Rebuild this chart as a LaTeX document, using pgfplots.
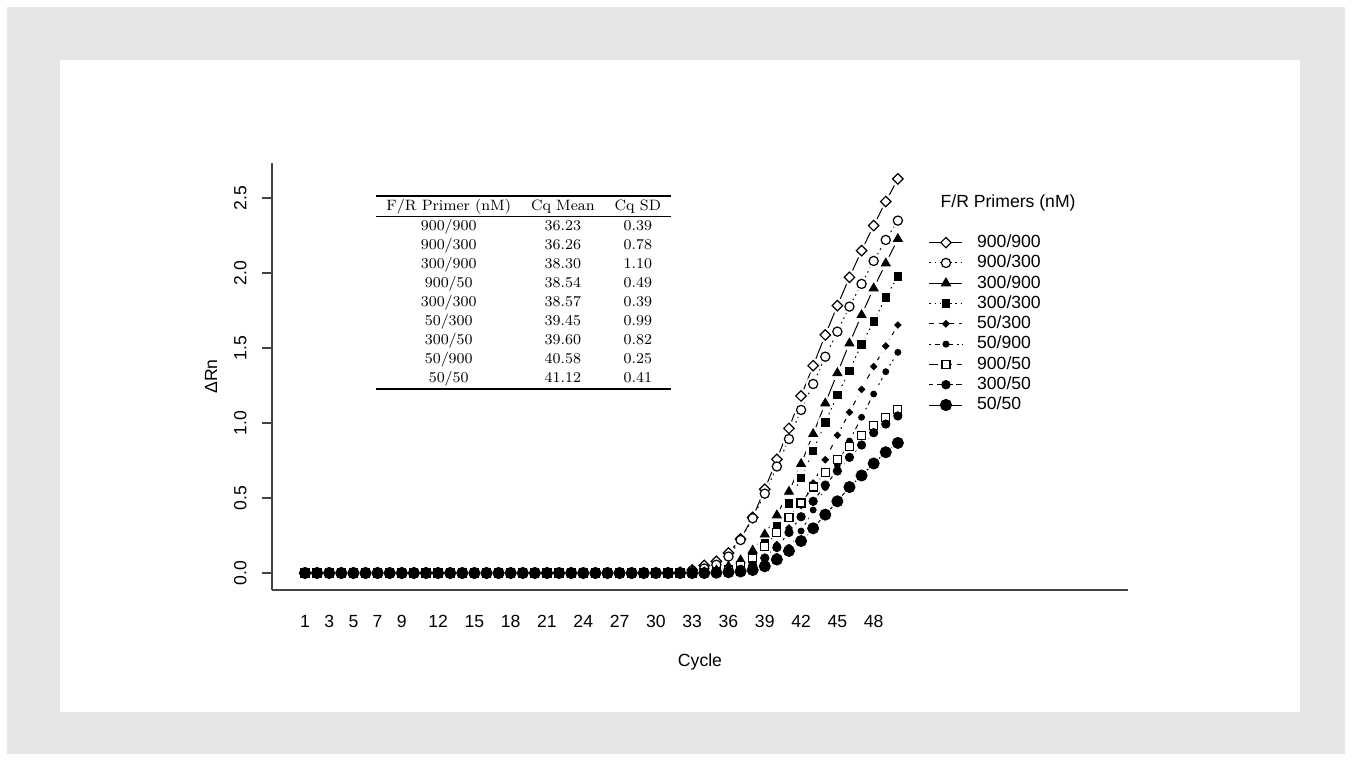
\documentclass[border=0pt]{standalone}
\usepackage{pgfplots}
\pgfplotsset{compat=1.18}
\usepackage{pgfplotstable}
\usepackage{booktabs}
\usepackage{fontspec}
\newfontfamily\arialfont{Liberation Sans}
\newcommand{\axfont}{\arialfont\fontsize{8.8}{10.5}\selectfont}
\definecolor{bg}{HTML}{E6E6E6}
\definecolor{axc}{HTML}{444444}

\pgfplotstableread{
c s1 s2 s3 s4 s5 s6 s7 s8 s9
1 0 0 0 0 0 0 0 0 0
2 0 0 0 0 0 0 0 0 0
3 0 0 0 0 0 0 0 0 0
4 0 0 0 0 0 0 0 0 0
5 0 0 0 0 0 0 0 0 0
6 0 0 0 0 0 0 0 0 0
7 0 0 0 0 0 0 0 0 0
8 0 0 0 0 0 0 0 0 0
9 0 0 0 0 0 0 0 0 0
10 0 0 0 0 0 0 0 0 0
11 0 0 0 0 0 0 0 0 0
12 0 0 0 0 0 0 0 0 0
13 0 0 0 0 0 0 0 0 0
14 0 0 0 0 0 0 0 0 0
15 0 0 0 0 0 0 0 0 0
16 0 0 0 0 0 0 0 0 0
17 0 0 0 0 0 0 0 0 0
18 0 0 0 0 0 0 0 0 0
19 0 0 0 0 0 0 0 0 0
20 0 0 0 0 0 0 0 0 0
21 0 0 0 0 0 0 0 0 0
22 0 0 0 0 0 0 0 0 0
23 0 0 0 0 0 0 0 0 0
24 0 0 0 0 0 0 0 0 0
25 0 0 0 0 0 0 0 0 0
26 0 0 0 0 0 0 0 0 0
27 0 0 0 0 0 0 0 0 0
28 0 0 0 0 0 0 0 0 0
29 0 0 0 0 0 0 0 0 0
30 0 0 0 0 0 0 0 0 0
31 0 0 0 0 0 0 0 0 0
32 0.005 0.003 0 0 0 0 0 0 0
33 0.020 0.015 0.000 0.000 0.000 0.000 0.000 0.000 0.000
34 0.050 0.030 0.005 0.003 0.002 0.000 0.003 0.002 0.000
35 0.078 0.055 0.018 0.010 0.005 0.003 0.008 0.005 0.002
36 0.133 0.110 0.045 0.025 0.012 0.007 0.020 0.010 0.005
37 0.227 0.220 0.085 0.055 0.025 0.015 0.050 0.025 0.010
38 0.371 0.365 0.150 0.110 0.050 0.030 0.100 0.050 0.020
39 0.558 0.529 0.257 0.198 0.100 0.060 0.175 0.100 0.045
40 0.758 0.710 0.385 0.311 0.190 0.110 0.269 0.170 0.090
41 0.964 0.893 0.542 0.464 0.300 0.170 0.371 0.270 0.147
42 1.180 1.087 0.727 0.635 0.450 0.280 0.467 0.375 0.213
43 1.382 1.260 0.927 0.815 0.600 0.420 0.573 0.478 0.298
44 1.587 1.442 1.131 1.004 0.755 0.570 0.669 0.586 0.389
45 1.782 1.609 1.333 1.187 0.918 0.720 0.759 0.680 0.478
46 1.971 1.776 1.531 1.349 1.071 0.880 0.842 0.771 0.573
47 2.149 1.927 1.720 1.524 1.224 1.038 0.916 0.853 0.650
48 2.316 2.080 1.898 1.676 1.376 1.193 0.981 0.935 0.730
49 2.476 2.220 2.064 1.838 1.513 1.342 1.039 0.993 0.805
50 2.627 2.349 2.227 1.976 1.653 1.471 1.091 1.047 0.867
}\data

\pgfplotsset{
  l1/.style={solid},
  l2/.style={dash pattern=on 0.8pt off 1.8pt},
  l3/.style={solid},
  l4/.style={dash pattern=on 0.8pt off 1.8pt},
  l5/.style={dash pattern=on 2.5pt off 2.5pt},
  l6/.style={dash pattern=on 0.8pt off 1.8pt on 2.5pt off 1.8pt},
  l7/.style={dash pattern=on 4.5pt off 2.5pt},
  l8/.style={dash pattern=on 1.8pt off 1.8pt on 4.5pt off 1.8pt},
  l9/.style={solid},
  m1/.style={mark=square*, mark size=1.85pt, mark options={rotate=45, solid, fill=white, draw=black, line width=0.6pt}},
  m2/.style={mark=*, mark size=2.3pt, mark options={solid, fill=white, draw=black, line width=0.6pt}},
  m3/.style={mark=triangle*, mark size=2.6pt, mark options={solid, fill=black, draw=black}},
  m4/.style={mark=square*, mark size=1.85pt, mark options={solid, fill=black, draw=black}},
  m5/.style={mark=square*, mark size=1.15pt, mark options={rotate=45, solid, fill=black, draw=black}},
  m6/.style={mark=*, mark size=1.5pt, mark options={solid, fill=black, draw=black}},
  m7/.style={mark=square*, mark size=2pt, mark options={solid, fill=white, draw=black, line width=0.6pt}},
  m8/.style={mark=*, mark size=2.1pt, mark options={solid, fill=black, draw=black}},
  m9/.style={mark=*, mark size=2.8pt, mark options={solid, fill=black, draw=black}},
  halo/.style={forget plot, only marks, color=white, mark=*, mark size=3.5pt, mark options={draw=white, fill=white}},
}

\begin{document}
\begin{tikzpicture}
\fill[white] (-136pt,-85.5pt) rectangle (540pt,295pt);
\fill[bg] (-132.5pt,-82pt) rectangle (536.5pt,291.5pt);
\fill[white] (-106pt,-61pt) rectangle (514pt,265pt);
\begin{axis}[
  at={(0pt,0pt)}, anchor=south west,
  scale only axis, width=428pt, height=213.5pt,
  xmin=-1.727, xmax=69.02, ymin=-0.1133, ymax=2.733,
  axis x line*=bottom, axis y line*=left,
  axis line style={draw=axc, line width=0.8pt, -},
  tick align=outside, major tick length=5pt,
  xtick={1,3,5,7,9,12,15,18,21,24,27,30,33,36,39,42,45,48},
  xticklabels={1,3,5,7,9,12,15,18,21,24,27,30,33,36,39,42,45,48},
  xtick style={draw=none},
  xticklabel style={font=\axfont, anchor=north, inner sep=0pt},
  xticklabel shift=7.5pt,
  ytick={0,0.5,1,1.5,2,2.5},
  yticklabels={0.0,0.5,1.0,1.5,2.0,2.5},
  ytick style={draw=axc, line width=0.7pt},
  yticklabel style={font=\axfont, rotate=90, anchor=south, inner sep=0pt},
  yticklabel shift=7.5pt,
  every axis y label/.style={at={(axis description cs:-0.0713,0.5)}, rotate=90, anchor=center, font=\axfont},
  every axis x label/.style={at={(axis description cs:0.5,-0.1686)}, anchor=center, font=\axfont},
  xlabel={Cycle}, ylabel={ΔRn},
  clip=false,
  legend style={at={(axis cs:52.57,2.27)}, anchor=north west, draw=none, fill=none,
    inner sep=0pt, outer sep=0pt, font=\axfont, row sep=0pt,
    nodes={inner sep=0.6pt, text height=6.9pt, text depth=2.05pt},
    /tikz/every odd column/.append style={column sep=6.5pt}},
  legend cell align=left,
  legend image code/.code={\draw[line width=0.5pt, mark repeat=2, mark phase=2] plot coordinates {(0pt,0pt) (8.25pt,0pt) (16.5pt,0pt)};},
]
% lines
\addplot[forget plot, no markers, line width=0.5pt, l1] table[x=c,y=s1] {\data};
\addplot[forget plot, no markers, line width=0.5pt, l2] table[x=c,y=s2] {\data};
\addplot[forget plot, no markers, line width=0.5pt, l3] table[x=c,y=s3] {\data};
\addplot[forget plot, no markers, line width=0.5pt, l4] table[x=c,y=s4] {\data};
\addplot[forget plot, no markers, line width=0.5pt, l5] table[x=c,y=s5] {\data};
\addplot[forget plot, no markers, line width=0.5pt, l6] table[x=c,y=s6] {\data};
\addplot[forget plot, no markers, line width=0.5pt, l7] table[x=c,y=s7] {\data};
\addplot[forget plot, no markers, line width=0.5pt, l8] table[x=c,y=s8] {\data};
\addplot[forget plot, no markers, line width=0.5pt, l9] table[x=c,y=s9] {\data};
% gaps around points (as in a points-and-lines plot)
\addplot[halo] table[x=c,y=s1] {\data};
\addplot[halo] table[x=c,y=s2] {\data};
\addplot[halo] table[x=c,y=s3] {\data};
\addplot[halo] table[x=c,y=s4] {\data};
\addplot[halo] table[x=c,y=s5] {\data};
\addplot[halo] table[x=c,y=s6] {\data};
\addplot[halo] table[x=c,y=s7] {\data};
\addplot[halo] table[x=c,y=s8] {\data};
\addplot[halo] table[x=c,y=s9] {\data};
% markers
\addplot[forget plot, only marks, m1] table[x=c,y=s1] {\data};
\addplot[forget plot, only marks, m2] table[x=c,y=s2] {\data};
\addplot[forget plot, only marks, m3] table[x=c,y=s3] {\data};
\addplot[forget plot, only marks, m4] table[x=c,y=s4] {\data};
\addplot[forget plot, only marks, m5] table[x=c,y=s5] {\data};
\addplot[forget plot, only marks, m6] table[x=c,y=s6] {\data};
\addplot[forget plot, only marks, m7] table[x=c,y=s7] {\data};
\addplot[forget plot, only marks, m8] table[x=c,y=s8] {\data};
\addplot[forget plot, only marks, m9] table[x=c,y=s9] {\data};
% legend
\addlegendimage{l1, m1}\addlegendentry{900/900}
\addlegendimage{l2, m2}\addlegendentry{900/300}
\addlegendimage{l3, m3}\addlegendentry{300/900}
\addlegendimage{l4, m4}\addlegendentry{300/300}
\addlegendimage{l5, m5}\addlegendentry{50/300}
\addlegendimage{l6, m6}\addlegendentry{50/900}
\addlegendimage{l7, m7}\addlegendentry{900/50}
\addlegendimage{l8, m8}\addlegendentry{300/50}
\addlegendimage{l9, m9}\addlegendentry{50/50}
\node[anchor=west, font=\axfont, inner sep=0pt] at (axis cs:53.5,2.47) {F/R Primers (nM)};
\node[anchor=north west, inner sep=0pt] at (axis cs:6.87,2.52) {\fontsize{7.5}{9.5}\selectfont\setlength{\tabcolsep}{5pt}\setlength{\aboverulesep}{0pt}\setlength{\belowrulesep}{0pt}%
\begin{tabular}{ccc}
\toprule
F/R Primer (nM) & Cq Mean & Cq SD\\
\midrule
900/900 & 36.23 & 0.39\\
900/300 & 36.26 & 0.78\\
300/900 & 38.30 & 1.10\\
900/50 & 38.54 & 0.49\\
300/300 & 38.57 & 0.39\\
50/300 & 39.45 & 0.99\\
300/50 & 39.60 & 0.82\\
50/900 & 40.58 & 0.25\\
50/50 & 41.12 & 0.41\\
\bottomrule
\end{tabular}};
\end{axis}
\end{tikzpicture}
\end{document}
